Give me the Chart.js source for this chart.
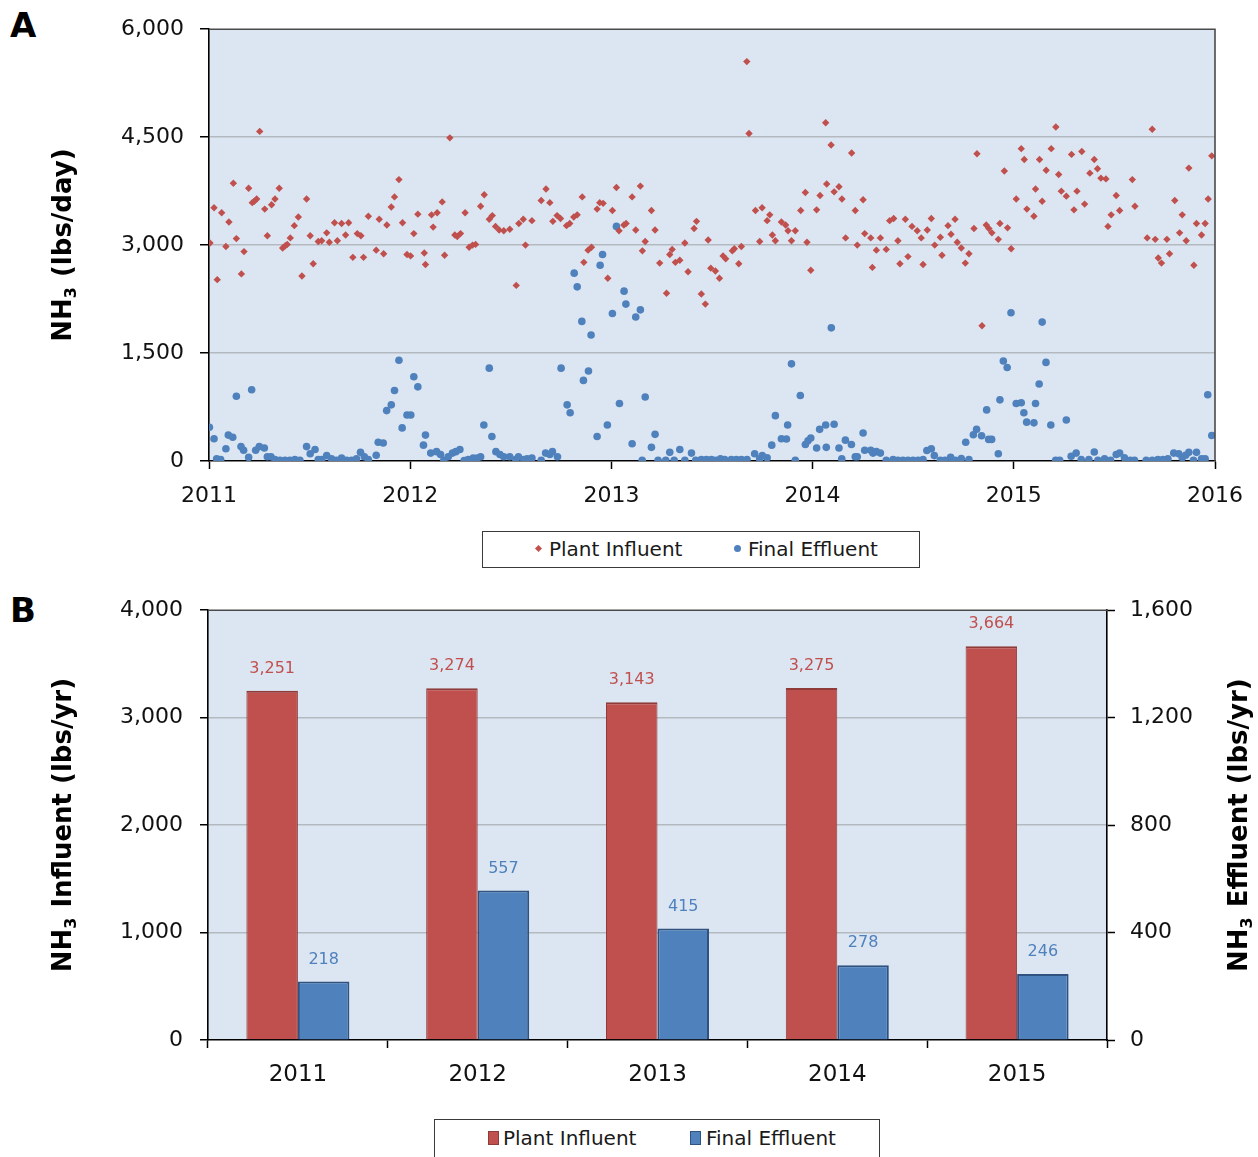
<!DOCTYPE html>
<html>
<head>
<meta charset="utf-8">
<title>NH3 Plant Influent and Final Effluent</title>
<script src="https://cdn.jsdelivr.net/npm/chart.js@4.4.1/dist/chart.umd.min.js"></script>
<style>
  html, body { margin: 0; padding: 0; background: #fff; }
  body { width: 1258px; height: 1157px; position: relative; overflow: hidden; font-family: 'DejaVu Sans', sans-serif; }
  canvas { position: absolute; left: 0; }
  #chartA { top: 0; }
  #chartB { top: 580px; }
  .panel-letter { position: absolute; left: 10px; font-weight: bold; font-size: 34px; line-height: 34px; color: #000; }
  .legend-box { position: absolute; border: 1px solid #3a3a3a; background: #fff; box-sizing: border-box; }
  .lg-text { position: absolute; font-size: 20px; line-height: 24px; color: #1a1a1a; white-space: nowrap; }
  .lg-diamond { position: absolute; width: 5px; height: 5px; background: #C0504D; transform: rotate(45deg); }
  .lg-dot { position: absolute; width: 7px; height: 7px; border-radius: 50%; background: #4F81BD; }
  .lg-square { position: absolute; width: 11px; height: 14px; box-sizing: border-box; }
</style>
</head>
<body>
<div class="panel-letter" style="top:8px;">A</div>
<div class="panel-letter" style="top:593px;">B</div>

<canvas id="chartA" width="1258" height="520"></canvas>
<canvas id="chartB" width="1258" height="577"></canvas>

<!-- legend, panel A -->
<div class="legend-box" style="left:482px; top:531px; width:438px; height:37px;"></div>
<div class="lg-diamond" style="left:536px; top:546px;"></div>
<div class="lg-text" style="left:549px; top:537px;">Plant Influent</div>
<div class="lg-dot" style="left:734px; top:545px;"></div>
<div class="lg-text" style="left:748px; top:537px;">Final Effluent</div>

<!-- legend, panel B -->
<div class="legend-box" style="left:434px; top:1119px; width:446px; height:60px;"></div>
<div class="lg-square" style="left:488px; top:1131px; background:#C0504D; border:1px solid #8E3B39;"></div>
<div class="lg-text" style="left:503px; top:1126px;">Plant Influent</div>
<div class="lg-square" style="left:690px; top:1131px; background:#4F81BD; border:1px solid #2F5281;"></div>
<div class="lg-text" style="left:706px; top:1126px;">Final Effluent</div>

<script>
// ---- Weekly NH3 loads (lbs/day), sample date as decimal year ----
const influentDate = [
  2011.005,2011.025,2011.041,2011.063,2011.084,2011.099,2011.121,2011.136,2011.161,2011.174,2011.197,2011.215,2011.225,2011.237,2011.252,2011.277,2011.290,2011.311,2011.328,2011.349,2011.366,2011.379,2011.389,2011.404,2011.424,2011.444,2011.462,2011.485,2011.503,2011.518,
  2011.543,2011.560,2011.585,2011.598,2011.624,2011.638,2011.659,2011.679,2011.694,2011.715,2011.737,2011.755,2011.768,2011.792,2011.831,2011.846,2011.868,2011.884,2011.906,2011.922,2011.944,2011.962,2011.984,2012.002,2012.018,2012.038,2012.070,2012.076,
  2012.106,2012.114,2012.134,2012.159,2012.171,2012.197,2012.222,2012.234,2012.250,2012.273,2012.293,2012.310,2012.325,2012.350,2012.368,2012.393,2012.408,2012.424,2012.442,2012.465,2012.495,2012.527,2012.540,2012.562,2012.573,2012.605,2012.651,2012.675,
  2012.694,2012.709,2012.730,2012.747,2012.777,2012.793,2012.813,2012.830,2012.855,2012.863,2012.884,2012.901,2012.929,2012.942,2012.959,2012.982,2013.005,2013.025,2013.038,2013.062,2013.073,2013.103,2013.121,2013.144,2013.154,2013.168,2013.199,2013.217,2013.240,
  2013.274,2013.290,2013.302,2013.318,2013.340,2013.365,2013.381,2013.411,2013.423,2013.447,2013.467,2013.481,2013.494,2013.517,2013.537,2013.555,2013.568,2013.601,2013.611,2013.633,2013.646,2013.673,2013.684,2013.716,2013.737,2013.749,2013.774,2013.787,2013.800,2013.815,
  2013.845,2013.866,2013.878,2013.895,2013.914,2013.941,2013.964,2013.972,2013.991,2014.020,2014.037,2014.065,2014.070,2014.092,2014.107,2014.131,2014.146,2014.164,2014.194,2014.212,2014.222,2014.251,2014.259,2014.289,2014.297,2014.317,2014.337,2014.366,2014.383,
  2014.403,2014.424,2014.434,2014.461,2014.474,2014.494,2014.520,2014.540,2014.549,2014.570,2014.590,2014.607,2014.635,2014.643,2014.673,2014.688,2014.708,2014.719,2014.739,2014.759,2014.777,2014.802,2014.817,2014.842,2014.863,2014.876,2014.891,2014.923,2014.931,2014.953,
  2014.969,2014.987,2015.012,2015.037,2015.052,2015.065,2015.100,2015.108,2015.128,2015.141,2015.161,2015.186,2015.209,2015.223,2015.236,2015.261,2015.287,2015.299,2015.314,2015.338,2015.352,2015.378,2015.400,2015.416,2015.433,2015.458,2015.468,2015.484,2015.509,2015.526,
  2015.589,2015.602,2015.663,2015.688,2015.703,2015.718,2015.734,2015.761,2015.774,2015.800,2015.824,2015.837,2015.857,2015.870,2015.895,2015.908,2015.933,2015.951,2015.966,2015.984
];
const influentLoad = [
  3030,3520,2520,3450,2980,3320,3860,3090,2600,2910,3790,3590,3610,3640,4580,3500,3130,3560,3640,3790,2960,2990,3010,3100,3270,3390,2570,3640,3130,2740,
  3050,3060,3170,3040,3310,3060,3300,3140,3310,2830,3160,3130,2830,3400,2930,3360,2880,3280,3530,3670,3910,3310,2870,2850,3160,3430,2890,2730,
  3420,3250,3450,3600,2860,4490,3140,3120,3160,3450,2970,3000,3010,3540,3700,3360,3410,3260,3210,3200,3220,2440,3300,3360,3000,3340,3620,3780,
  3590,3330,3410,3370,3270,3300,3390,3420,3670,2760,2930,2970,3500,3590,3580,2540,3480,3800,3200,3280,3300,3670,3210,3820,2920,3050,3480,3210,2750,
  2330,2870,2940,2760,2790,3030,2630,3230,3330,2320,2180,3070,2680,2640,2540,2850,2810,2920,2950,2740,2980,5550,4550,3480,3050,3520,3340,3420,3140,3060,
  3320,3280,3200,3060,3200,3480,3730,3040,2650,3490,3690,4700,3850,4390,3740,3810,3640,3100,4280,3480,3000,3630,3160,3100,2690,2930,3100,2940,3340,
  3370,3060,2740,3360,2840,3260,3200,3100,2730,3210,3370,3000,3110,2860,3270,3150,3360,3040,2960,2750,2880,3230,4270,1880,3280,3230,3170,3080,3300,4030,
  3240,2950,3640,4340,4190,3500,3400,3780,4190,3610,4040,4340,4640,3980,3750,3680,4260,3490,3750,4300,3570,4000,4190,4060,3930,3920,3260,3420,3690,3480,
  3910,3540,3100,4610,3080,2820,2750,3080,2880,3620,3170,3420,3060,4070,2720,3300,3140,3300,3640,4240
];
const effluentDate = [
  2011.002,2011.025,2011.038,2011.058,2011.084,2011.096,2011.118,2011.136,2011.159,2011.172,2011.197,2011.212,2011.232,2011.250,2011.275,2011.290,2011.308,2011.328,2011.353,2011.378,2011.402,2011.427,2011.452,2011.485,2011.503,2011.527,
  2011.543,2011.560,2011.585,2011.609,2011.634,2011.659,2011.684,2011.709,2011.733,2011.753,2011.772,2011.792,2011.831,2011.841,2011.866,2011.883,2011.906,2011.922,2011.944,2011.960,2011.984,2012.003,2012.018,2012.038,2012.066,2012.076,2012.102,
  2012.131,2012.151,2012.167,2012.189,2012.210,2012.227,2012.247,2012.268,2012.288,2012.313,2012.333,2012.350,2012.366,2012.393,2012.406,2012.426,2012.446,2012.465,2012.495,2012.525,2012.538,2012.565,2012.581,2012.605,2012.651,2012.673,
  2012.694,2012.707,2012.732,2012.750,2012.780,2012.795,2012.815,2012.830,2012.853,2012.861,2012.886,2012.899,2012.929,2012.944,2012.956,2012.980,2013.005,2013.025,2013.040,2013.063,2013.072,2013.103,2013.121,2013.144,2013.153,2013.168,2013.199,2013.217,2013.232,
  2013.270,2013.290,2013.312,2013.340,2013.365,2013.398,2013.419,2013.447,2013.472,2013.497,2013.519,2013.542,2013.563,2013.596,2013.621,2013.646,2013.674,2013.712,2013.737,2013.750,2013.774,2013.797,2013.815,
  2013.845,2013.870,2013.876,2013.895,2013.914,2013.939,2013.964,2013.977,2013.991,2014.020,2014.035,2014.065,2014.068,2014.093,2014.107,2014.131,2014.145,2014.163,2014.193,2014.212,2014.222,2014.251,2014.259,2014.289,2014.300,2014.317,2014.337,2014.366,
  2014.400,2014.424,2014.449,2014.474,2014.499,2014.524,2014.549,2014.568,2014.590,2014.605,2014.635,2014.658,2014.686,2014.709,2014.739,2014.761,2014.777,2014.799,2014.815,2014.840,2014.865,2014.875,2014.890,2014.923,2014.931,2014.948,
  2014.967,2014.986,2015.012,2015.037,2015.050,2015.064,2015.100,2015.108,2015.126,2015.141,2015.160,2015.184,2015.208,2015.228,2015.261,2015.285,2015.310,2015.335,2015.373,2015.400,2015.418,2015.451,2015.481,2015.509,2015.526,
  2015.550,2015.579,2015.600,2015.658,2015.688,2015.716,2015.741,2015.766,2015.795,2015.820,2015.837,2015.854,2015.870,2015.893,2015.908,2015.933,2015.951,2015.964,2015.984
];
const effluentLoad = [
  470,310,30,20,170,360,330,900,200,150,50,990,150,200,180,60,60,20,10,10,10,20,10,200,100,160,
  20,20,75,30,10,40,10,10,30,120,60,20,80,260,250,700,780,980,1400,460,640,640,1170,1030,220,360,110,
  130,90,10,60,110,130,160,5,20,40,40,60,500,1290,340,130,90,60,60,20,60,20,30,40,10,110,
  90,130,60,1290,780,670,2610,2420,1940,1120,1250,1750,340,2720,2870,500,2050,3260,800,2360,2180,240,2000,2100,10,890,190,370,10,
  10,120,10,160,10,110,10,20,20,20,10,30,20,20,20,20,20,100,30,75,45,220,630,
  310,305,500,1350,10,910,230,280,320,180,440,500,190,1850,510,180,30,290,230,60,60,390,150,150,110,130,110,10,
  20,10,10,10,10,10,20,145,170,75,10,10,50,10,35,260,20,365,440,350,710,300,300,100,850,1390,
  1300,2060,800,810,670,540,530,800,1070,1930,1370,500,10,10,570,65,110,20,20,125,10,30,10,90,110,
  45,10,10,10,10,20,20,30,110,100,45,80,120,10,120,30,30,920,355
];

// ---- Annual averages (lbs/yr) ----
const years = ['2011', '2012', '2013', '2014', '2015'];
const annualInfluent = [3251, 3274, 3143, 3275, 3664];
const annualEffluent = [218, 557, 415, 278, 246];

const RED = '#C0504D';
const BLUE = '#4F81BD';
const PLOT_BG = '#DCE6F2';
const GRID = '#B4B9C0';
const FONT = "'DejaVu Sans', sans-serif";

Chart.defaults.font.family = FONT;
Chart.defaults.color = '#1a1a1a';

const fmt = v => Number(v).toLocaleString('en-US');

// Light-blue plot area with a dark frame on the edges not covered by axes
const plotFrame = {
  id: 'plotFrame',
  beforeDraw(chart, args, opts) {
    const { ctx, chartArea: a } = chart;
    ctx.save();
    ctx.fillStyle = opts.fill;
    ctx.fillRect(a.left, a.top, a.right - a.left, a.bottom - a.top);
    ctx.restore();
  },
  afterDraw(chart, args, opts) {
    const { ctx, chartArea: a } = chart;
    ctx.save();
    ctx.strokeStyle = opts.edge;
    ctx.lineWidth = 1.6;
    ctx.beginPath();
    ctx.moveTo(a.left, a.top);
    ctx.lineTo(a.right, a.top);
    if (opts.rightEdge) ctx.lineTo(a.right, a.bottom);
    ctx.stroke();
    ctx.restore();
  }
};

// Rotated axis titles with a subscript in NH3
const nh3Titles = {
  id: 'nh3Titles',
  afterDraw(chart, args, opts) {
    const { ctx, chartArea: a } = chart;
    const cy = (a.top + a.bottom) / 2;
    opts.items.forEach(item => {
      const cx = item.side === 'left' ? a.left - item.gap : a.right + item.gap;
      const big = `bold ${opts.size}px ${FONT}`;
      const small = `bold ${Math.round(opts.size * 0.62)}px ${FONT}`;
      ctx.save();
      ctx.translate(cx, cy);
      ctx.rotate(-Math.PI / 2);
      ctx.fillStyle = '#000';
      ctx.textBaseline = 'middle';
      ctx.textAlign = 'left';
      ctx.font = big;
      const w1 = ctx.measureText('NH').width;
      const w3 = ctx.measureText(item.rest).width;
      ctx.font = small;
      const w2 = ctx.measureText('3').width + 1;
      let x = -(w1 + w2 + w3) / 2;
      ctx.font = big;
      ctx.fillText('NH', x, 0);
      ctx.font = small;
      ctx.fillText('3', x + w1, opts.size * 0.3);
      ctx.font = big;
      ctx.fillText(item.rest, x + w1 + w2, 0);
      ctx.restore();
    });
  }
};

// Value labels above the annual bars
const barValues = {
  id: 'barValues',
  afterDatasetsDraw(chart, args, opts) {
    const ctx = chart.ctx;
    chart.data.datasets.forEach((ds, i) => {
      const meta = chart.getDatasetMeta(i);
      ctx.save();
      ctx.font = `${opts.size}px ${FONT}`;
      ctx.fillStyle = ds.backgroundColor;
      ctx.textAlign = 'center';
      ctx.textBaseline = 'middle';
      meta.data.forEach((el, j) => {
        ctx.fillText(fmt(ds.data[j]), el.x, el.y - opts.offset);
      });
      ctx.restore();
    });
  }
};

// ---------------- Panel A: weekly scatter ----------------
const influentPoints = influentDate.map((d, i) => ({ x: d, y: influentLoad[i] }));
const effluentPoints = effluentDate.map((d, i) => ({ x: d, y: effluentLoad[i] }));

new Chart(document.getElementById('chartA'), {
  type: 'scatter',
  data: {
    datasets: [
      { label: 'Plant Influent', data: influentPoints, pointStyle: 'rectRot', pointRadius: 3.7,
        backgroundColor: RED, borderColor: RED, borderWidth: 0 },
      { label: 'Final Effluent', data: effluentPoints, pointStyle: 'circle', pointRadius: 3.8,
        backgroundColor: BLUE, borderColor: BLUE, borderWidth: 0 }
    ]
  },
  options: {
    responsive: false,
    animation: false,
    events: [],
    layout: { padding: { top: 26, right: 43, left: 0, bottom: 0 } },
    plugins: {
      legend: { display: false },
      tooltip: { enabled: false },
      plotFrame: { fill: PLOT_BG, edge: '#4a4a4a', rightEdge: true },
      nh3Titles: { size: 26, items: [{ side: 'left', gap: 145, rest: ' (lbs/day)' }] }
    },
    scales: {
      x: {
        type: 'linear', min: 2011, max: 2016,
        ticks: { stepSize: 1, callback: v => String(v), padding: 14, font: { size: 22 }, color: '#111', maxRotation: 0 },
        grid: { drawOnChartArea: false, tickLength: 8, tickColor: '#000', tickWidth: 1.5 },
        border: { color: '#000', width: 1.6 },
        afterFit: s => { s.height = 59; }
      },
      y: {
        min: 0, max: 6000,
        ticks: { stepSize: 1500, callback: v => fmt(v), padding: 16, font: { size: 22 }, color: '#111' },
        grid: {
          color: c => (c.tick && (c.tick.value === 0 || c.tick.value === 6000)) ? 'rgba(0,0,0,0)' : GRID,
          lineWidth: 1.5, tickLength: 9, tickColor: '#000', tickWidth: 1.5
        },
        border: { color: '#000', width: 1.6 },
        afterFit: s => { s.width = 209; }
      }
    }
  },
  plugins: [plotFrame, nh3Titles]
});

// ---------------- Panel B: annual bars ----------------
new Chart(document.getElementById('chartB'), {
  type: 'bar',
  data: {
    labels: years,
    datasets: [
      { label: 'Plant Influent', data: annualInfluent, yAxisID: 'y',
        backgroundColor: RED, borderColor: '#8E3B39', borderWidth: { top: 2, left: 1, right: 1, bottom: 0 },
        categoryPercentage: 0.573, barPercentage: 1 },
      { label: 'Final Effluent', data: annualEffluent, yAxisID: 'y1',
        backgroundColor: BLUE, borderColor: '#2F5281', borderWidth: 2,
        categoryPercentage: 0.573, barPercentage: 1 }
    ]
  },
  options: {
    responsive: false,
    animation: false,
    events: [],
    layout: { padding: { top: 30, right: 0, left: 0, bottom: 0 } },
    plugins: {
      legend: { display: false },
      tooltip: { enabled: false },
      plotFrame: { fill: PLOT_BG, edge: '#4a4a4a', rightEdge: false },
      nh3Titles: { size: 26, items: [
        { side: 'left', gap: 144, rest: ' Influent (lbs/yr)' },
        { side: 'right', gap: 133, rest: ' Effluent (lbs/yr)' }
      ] },
      barValues: { size: 16, offset: 22 }
    },
    scales: {
      x: {
        ticks: { padding: 13, font: { size: 23 }, color: '#111' },
        grid: { drawOnChartArea: false, offset: true, tickLength: 8, tickColor: '#000', tickWidth: 1.5 },
        border: { color: '#000', width: 1.6 },
        afterFit: s => { s.height = 117; }
      },
      y: {
        position: 'left', min: 0, max: 4000,
        ticks: { stepSize: 1000, callback: v => fmt(v), padding: 17, font: { size: 22 }, color: '#111' },
        grid: {
          color: c => (c.tick && (c.tick.value === 0 || c.tick.value === 4000)) ? 'rgba(0,0,0,0)' : GRID,
          lineWidth: 1.5, tickLength: 8, tickColor: '#000', tickWidth: 1.5
        },
        border: { color: '#000', width: 1.6 },
        afterFit: s => { s.width = 208; }
      },
      y1: {
        position: 'right', min: 0, max: 1600,
        ticks: { stepSize: 400, callback: v => fmt(v), padding: 15, font: { size: 22 }, color: '#111' },
        grid: { drawOnChartArea: false, tickLength: 8, tickColor: '#000', tickWidth: 1.5 },
        border: { color: '#000', width: 1.6 },
        afterFit: s => { s.width = 151; }
      }
    }
  },
  plugins: [plotFrame, nh3Titles, barValues]
});
</script>
</body>
</html>
